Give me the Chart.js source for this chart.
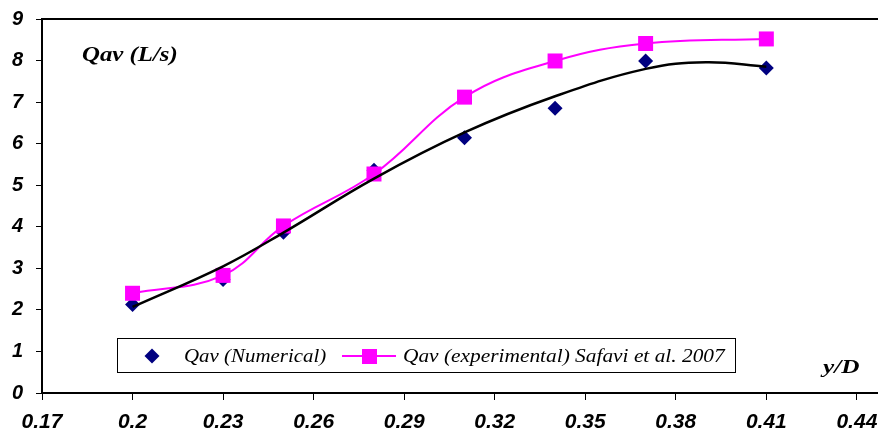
<!DOCTYPE html>
<html>
<head>
<meta charset="utf-8">
<script src="https://cdn.jsdelivr.net/npm/chart.js@4"></script>
<style>
  html, body { margin: 0; padding: 0; background: #fff; }
  #wrap { width: 878px; height: 432px; position: relative; }
</style>
</head>
<body>
<div id="wrap"><canvas id="qavChart"></canvas></div>
<script>
// y/D positions of the measured / computed points
var yD = [0.2, 0.23, 0.25, 0.28, 0.31, 0.34, 0.37, 0.41];
var qavNumerical = [2.13, 2.73, 3.87, 5.36, 6.14, 6.85, 7.99, 7.82];
var qavExperimental = [2.40, 2.83, 4.02, 5.27, 7.12, 7.99, 8.41, 8.52];

// trendline through the numerical points
var trendX = [0.2, 0.23, 0.25, 0.28, 0.31, 0.34, 0.37, 0.39, 0.41];
var trendY = [2.07, 3.05, 3.86, 5.16, 6.27, 7.14, 7.80, 7.96, 7.85];

var xTicks = [0.17, 0.2, 0.23, 0.26, 0.29, 0.32, 0.35, 0.38, 0.41, 0.44];
var yTicks = [0, 1, 2, 3, 4, 5, 6, 7, 8, 9];

var navy = '#000080';
var magenta = '#FF00FF';

function pts(xs, ys) {
    return xs.map(function(x, i) { return { x: x, y: ys[i] }; });
}

function stretchText(ctx, text, x, y, font, sx) {
    ctx.save();
    ctx.font = font;
    ctx.textBaseline = 'alphabetic';
    ctx.textAlign = 'left';
    ctx.fillStyle = '#000';
    ctx.translate(x, y);
    ctx.scale(sx, 1);
    ctx.fillText(text, 0, 0);
    ctx.restore();
}

// top border, axis titles and the boxed legend inside the plot
var decorPlugin = {
    id: 'decor',
    afterDraw: function(chart) {
        var ctx = chart.ctx;
        var area = chart.chartArea;
        ctx.save();
        ctx.strokeStyle = '#000';
        ctx.lineWidth = 2;
        ctx.beginPath();
        ctx.moveTo(area.left - 1, area.top);
        ctx.lineTo(area.right, area.top);
        ctx.stroke();
        ctx.restore();

        stretchText(ctx, 'Qav (L/s)', 82, 61, 'italic bold 20px "Liberation Serif"', 1.24);
        stretchText(ctx, 'y/D', 823, 373, 'italic bold 19px "Liberation Serif"', 1.33);

        // legend box
        ctx.save();
        ctx.fillStyle = '#fff';
        ctx.fillRect(117.5, 338.5, 618, 34);
        ctx.strokeStyle = '#000';
        ctx.lineWidth = 1;
        ctx.strokeRect(117.5, 338.5, 618, 34);

        // diamond
        ctx.fillStyle = navy;
        ctx.beginPath();
        ctx.moveTo(152, 348.5);
        ctx.lineTo(159.5, 356);
        ctx.lineTo(152, 363.5);
        ctx.lineTo(144.5, 356);
        ctx.closePath();
        ctx.fill();

        // line + square
        ctx.strokeStyle = magenta;
        ctx.lineWidth = 2;
        ctx.beginPath();
        ctx.moveTo(342, 356);
        ctx.lineTo(396, 356);
        ctx.stroke();
        ctx.fillStyle = magenta;
        ctx.fillRect(362, 349, 15, 15);
        ctx.restore();

        stretchText(ctx, 'Qav (Numerical)', 184, 362, 'italic 19px "Liberation Serif"', 1.1);
        stretchText(ctx, 'Qav (experimental) Safavi et al. 2007', 403, 362, 'italic 19px "Liberation Serif"', 1.125);
    }
};

Chart.defaults.font.family = '"Liberation Sans", Arial, sans-serif';
Chart.defaults.color = '#000';

var ctx = document.getElementById('qavChart').getContext('2d');
var qavChart = new Chart(ctx, {
    type: 'scatter',
    data: {
        datasets: [{
            label: 'Trend',
            data: pts(trendX, trendY),
            showLine: true,
            borderColor: '#000',
            borderWidth: 2.5,
            pointRadius: 0,
            tension: 0.4
        }, {
            label: 'Qav (experimental) Safavi et al. 2007',
            data: pts(yD, qavExperimental),
            showLine: true,
            borderColor: magenta,
            backgroundColor: magenta,
            borderWidth: 2,
            pointStyle: 'rect',
            pointRadius: 10.6,
            pointBorderWidth: 0,
            tension: 0.4
        }, {
            label: 'Qav (Numerical)',
            data: pts(yD, qavNumerical),
            borderColor: navy,
            backgroundColor: navy,
            pointStyle: 'rectRot',
            pointRadius: 7.5,
            pointBorderWidth: 0
        }]
    },
    options: {
        responsive: true,
        maintainAspectRatio: false,
        animation: false,
        layout: { autoPadding: false, padding: { top: 19, right: 0, left: 0, bottom: 0 } },
        plugins: {
            legend: { display: false },
            tooltip: { enabled: false }
        },
        scales: {
            x: {
                type: 'linear',
                min: 0.17,
                max: 0.447,
                afterBuildTicks: function(scale) {
                    scale.ticks = xTicks.map(function(v) { return { value: v }; });
                },
                afterFit: function(scale) {
                    scale.height = 39;
                    scale.paddingLeft = 0;
                    scale.paddingRight = 0;
                },
                grid: { drawOnChartArea: false, tickLength: 7, tickColor: '#000', tickWidth: 1 },
                border: { color: '#000', width: 2 },
                ticks: {
                    padding: 10,
                    maxRotation: 0,
                    autoSkip: false,
                    font: { size: 21, weight: 'bold', style: 'italic' },
                    callback: function(v) { return String(v); }
                }
            },
            y: {
                min: 0,
                max: 9,
                afterBuildTicks: function(scale) {
                    scale.ticks = yTicks.map(function(v) { return { value: v }; });
                },
                afterFit: function(scale) {
                    scale.width = 42;
                    scale.paddingTop = 0;
                    scale.paddingBottom = 0;
                },
                grid: { drawOnChartArea: false, tickLength: 6, tickColor: '#000', tickWidth: 1 },
                border: { color: '#000', width: 2 },
                ticks: {
                    padding: 13,
                    font: { size: 20, weight: 'bold', style: 'italic' }
                }
            }
        }
    },
    plugins: [decorPlugin]
});
</script>
</body>
</html>
